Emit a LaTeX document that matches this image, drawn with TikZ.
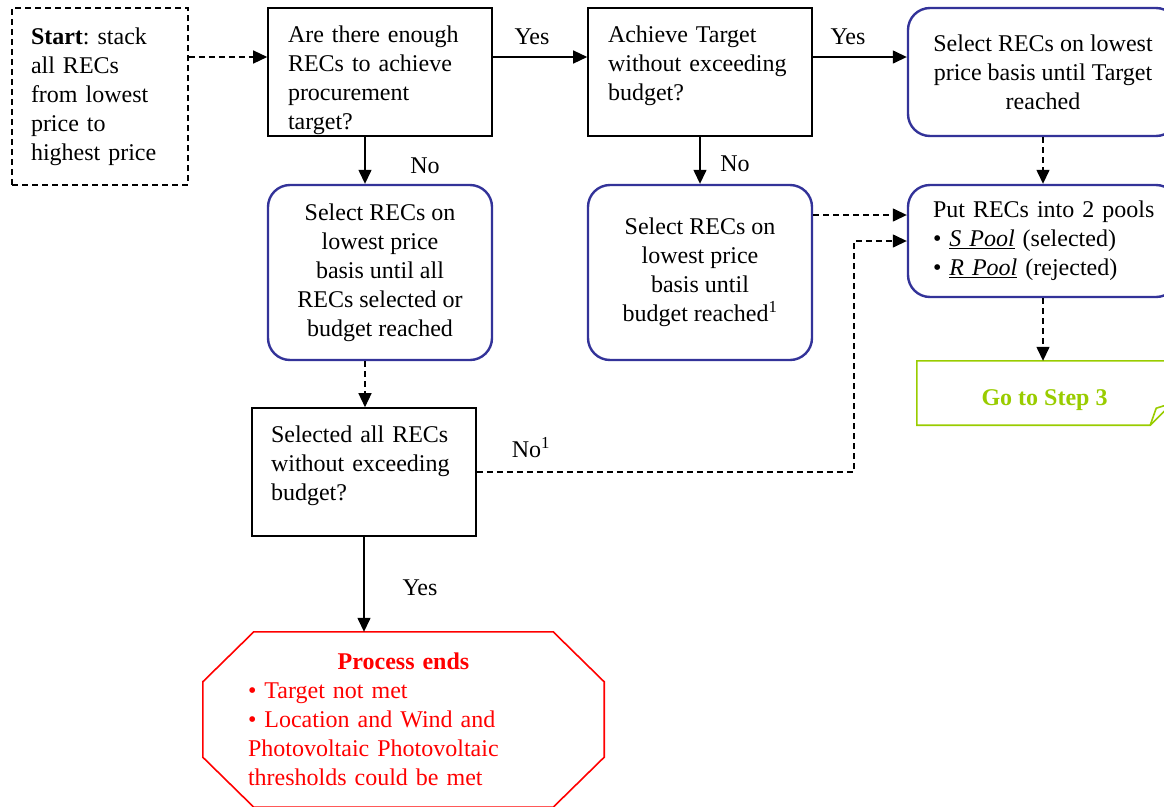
\documentclass[tikz,border=0pt]{standalone}
\usepackage{fontspec}
\setmainfont{Liberation Serif}
\usepackage{tikz}
\usetikzlibrary{arrows.meta}
\definecolor{recblue}{RGB}{51,51,153}
\definecolor{stopred}{RGB}{255,0,0}
\definecolor{gogreen}{RGB}{153,204,0}
\frenchspacing

\begin{document}
\begin{tikzpicture}
  [x=1pt,y=-1pt,
   font=\fontsize{24}{29}\selectfont,
   every node/.style={inner sep=0pt},
   qbox/.style={draw,line width=1.6pt,align=left,text width=184pt,
     minimum width=224pt,minimum height=128pt,text height=30pt,text depth=90pt},
   selbox/.style={draw=recblue,line width=2.4pt,rounded corners=22pt,align=center,minimum width=224pt},
   flow/.style={line width=1.4pt,-{Triangle[length=14pt,width=13pt]}},
   hop/.style={flow,dash pattern=on 6pt off 4pt}]

  \useasboundingbox (0,0) rectangle (1164,806);
  \clip (0,0) rectangle (1164,806);

  % question boxes
  \node[style={draw,line width=1.4pt,dash pattern=on 6pt off 4pt,align=left,text width=138pt,minimum width=176pt,minimum height=177pt}] (start) at (100,96.5)
    {\textbf{Start}: stack\\all RECs\\from lowest\\price to\\highest price};
  \node[qbox] (q1) at (380,72) {Are there enough\\RECs to achieve\\procurement\\target?};
  \node[qbox] (q2) at (700,72) {Achieve Target\\without exceeding\\budget?};
  \node[qbox,text width=186pt] (q3) at (364,472) {Selected all RECs\\without exceeding\\budget?};

  % selection boxes
  \node[selbox,minimum width=270pt,minimum height=128pt] (r1) at (1043,72)
    {Select RECs on lowest\\price basis until Target\\reached};
  \node[selbox,minimum width=270pt,minimum height=112pt,align=left,text width=220pt] (r2) at (1043,241)
    {\mbox{Put RECs into 2 pools}\\\mbox{• \underline{\textit{S Pool}} (selected)}\\\mbox{• \underline{\textit{R Pool}} (rejected)}};
  \node[selbox,minimum height=175pt] (a1) at (380,272.5)
    {Select RECs on\\lowest price\\basis until all\\RECs selected or\\budget reached};
  \node[selbox,minimum height=175pt] (a2) at (700,272.5)
    {Select RECs on\\lowest price\\basis until\\budget reached\textsuperscript{1}};

  % go to step 3
  \node[text=gogreen,font=\fontsize{24}{29}\selectfont\bfseries,minimum width=255pt,minimum height=64pt,text height=30pt,text depth=6pt] (go) at (1044.5,393) {Go to Step 3};
  \draw[gogreen,line width=1.6pt] (go.north west) -- (go.north east) -- ([yshift=22pt]go.south east)
    -- ([xshift=-22pt]go.south east) -- (go.south west) -- cycle;
  \draw[gogreen,line width=1.6pt] ([xshift=-22pt]go.south east) -- ([xshift=-16pt,yshift=17pt]go.south east)
    -- ([yshift=22pt]go.south east);

  % process ends
  \node[text=stopred,align=left,text width=311pt,minimum width=401pt,minimum height=175pt] (stop) at (403.5,719.5)
    {\makebox[\linewidth][c]{\textbf{Process ends}}\\• Target not met\\• Location and Wind and\\Photovoltaic Photovoltaic\\thresholds could be met};
  \draw[stopred,line width=1.6pt] ([xshift=51pt]stop.north west) -- ([xshift=-51pt]stop.north east)
    -- ([yshift=-50pt]stop.north east) -- ([yshift=50pt]stop.south east)
    -- ([xshift=-51pt]stop.south east) -- ([xshift=51pt]stop.south west)
    -- ([yshift=50pt]stop.south west) -- ([yshift=-50pt]stop.north west) -- cycle;

  % labels
  \node (yes1) at (532,36.5) {Yes};
  \node (yes2) at (848,36.5) {Yes};
  \node (no1) at (425,166) {No};
  \node (no2) at (735,164) {No};
  \node (no3) at (531,448) {No\textsuperscript{1}};
  \node (yes3) at (420,588) {Yes};

  % connectors
  \coordinate (q1in) at ([yshift=15pt]q1.west);
  \coordinate (q1out) at ([yshift=15pt]q1.east);
  \coordinate (q2in) at ([yshift=15pt]q2.west);
  \coordinate (q2out) at ([yshift=15pt]q2.east);
  \coordinate (r1in) at ([yshift=15pt]r1.west);
  \coordinate (q1down) at ([xshift=-15pt]q1.south);
  \coordinate (a1in) at ([xshift=-15pt]a1.north);
  \coordinate (a1out) at ([xshift=-15pt]a1.south);
  \coordinate (q2down) at (q2.south);
  \coordinate (a2in) at (a2.north);
  \coordinate (r2in) at ([yshift=26pt]r2.west);
  \coordinate (nobend) at (854,472);

  \draw[hop] (start.east |- q1in) -- (q1in);
  \foreach \from/\to in {q1out/q2in,q2out/r1in,q1down/a1in,q2down/a2in}
    \draw[flow] (\from) -- (\to);
  \draw[flow] (q3.south) -- (q3.south |- stop.north);
  \foreach \from/\to in {a1out/q3.north,r1.south/r2.north,r2.south/go.north}
    \draw[hop] (\from) -- (\from |- \to);
  \draw[hop] (a2.east |- r2in) -- (r2in);
  \draw[hop] (q3.east) -- (nobend) |- (r2.west);
\end{tikzpicture}
\end{document}
